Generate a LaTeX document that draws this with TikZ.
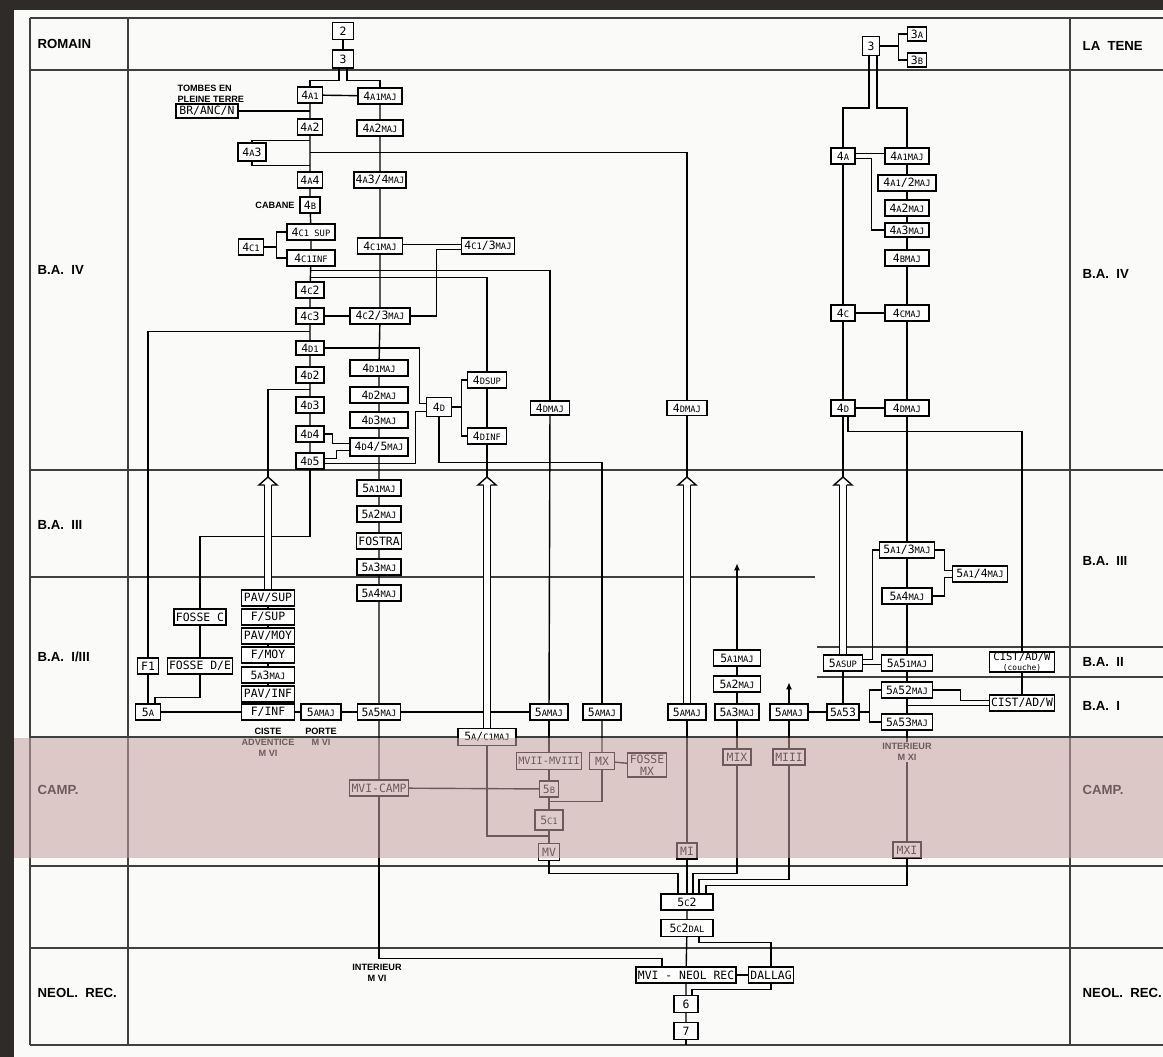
\documentclass[tikz,border=0pt]{standalone}
\usepackage{fontspec}
\setsansfont{Liberation Sans}
\setmonofont{DejaVu Sans Mono}
\usetikzlibrary{arrows.meta,calc}
\definecolor{scan}{RGB}{46,43,41}
\definecolor{paper}{RGB}{250,250,248}
\definecolor{campband}{RGB}{196,161,161}
\newcommand{\lc}[1]{{\fontsize{5}{5}\selectfont #1}}

\begin{document}
\begin{tikzpicture}[
    x=0.02cm, y=-0.02cm, line width=0.8pt,
    box/.style={draw, fill=white, font=\ttfamily\fontsize{6.5}{7}\selectfont,
                inner xsep=1pt, inner ysep=0pt, minimum height=0.32cm, align=center},
    wd/.style={minimum width=#1*0.02cm},
    ht/.style={minimum height=#1*0.02cm},
    lab/.style={font=\sffamily\bfseries\fontsize{5.2}{6.2}\selectfont, align=center, inner sep=0.5pt},
    period/.style={font=\sffamily\bfseries\fontsize{7.5}{8}\selectfont, anchor=west, inner sep=0pt},
    tabline/.style={line width=0.7pt, black!75},
    hollow/.style={double=white, double distance=3.2pt, line width=0.8pt},
    tip/.style={-{Latex[length=4pt,width=3.5pt]}},
    hollowhead/.pic={\draw[fill=white] (-3.5,0) -- (-9,0) -- (0,-8) -- (9,0) -- (3.5,0);}
]

% --- sheet ---
\fill[scan] (0,0) rectangle (1163,1057);
\fill[paper] (14,10) rectangle (1163,1057);
\useasboundingbox (0,0) rectangle (1163,1057);

% --- table ---
\draw[tabline] (30,18) -- (1163,18);
\draw[tabline] (30,70) -- (1163,70);
\draw[tabline] (30,470) -- (1163,470);
\draw[tabline] (30,577) -- (815,577);
\draw[tabline] (817,647) -- (1163,647);
\draw[tabline] (817,677) -- (1163,677);
\draw[tabline] (30,737) -- (1163,737);
\draw[tabline] (30,866) -- (1163,866);
\draw[tabline] (30,948) -- (1163,948);
\draw[tabline] (30,1045) -- (1163,1045);
\draw[tabline] (30,18) -- (30,1045);
\draw[tabline] (128,18) -- (128,1045);
\draw[tabline] (1070,18) -- (1070,1045);

\node[period] (romain) at (37,44) {ROMAIN};
\node[period] (baiv) at (37,270) {B.A.~~IV};
\node[period] (baiii) at (37,525) {B.A.~~III};
\node[period] (baiiii) at (37,657) {B.A.~~I/III};
\node[period] (camp) at (37,790) {CAMP.};
\node[period] (neol) at (37,993) {NEOL.~~REC.};
\node[period] (latene) at (1082,46) {LA~~TENE};
\node[period] (baivr) at (1082,274) {B.A.~~IV};
\node[period] (baiiir) at (1082,561) {B.A.~~III};
\node[period] (baii) at (1082,662) {B.A.~~II};
\node[period] (bai) at (1082,706) {B.A.~~I};
\node[period] (campr) at (1082,790) {CAMP.};
\node[period] (neolr) at (1082,993) {NEOL.~~REC.};

% --- left tree: 4A to 4D ---
\node[box, wd=21, ht=17] (n2) at (343,31) {2};
\node[box, wd=21, ht=18] (n3) at (343,59) {3};
\node[box, wd=25] (n4a1) at (310,95) {4\lc{A1}};
\node[box, wd=44] (n4a1maj) at (380,96) {4\lc{A1MAJ}};
\node[box, wd=62, ht=14] (brancn) at (207,111) {BR/ANC/N};
\node[lab, anchor=north west, align=left] (tombes) at (176,84) {TOMBES EN\\PLEINE TERRE};
\node[box, wd=25] (n4a2) at (310,127) {4\lc{A}2};
\node[box, wd=46] (n4a2maj) at (380,128) {4\lc{A}2\lc{MAJ}};
\node[box, wd=28, ht=18] (n4a3) at (252,152) {4\lc{A}3};
\node[box, wd=25] (n4a4) at (310,180) {4\lc{A}4};
\node[box, wd=49] (n4a34maj) at (380,180) {4\lc{A}3/4\lc{MAJ}};
\node[box, wd=20] (n4b) at (310,205) {4\lc{B}};
\node[lab] (cabane) at (275,205) {CABANE};
\node[box, wd=48] (n4c1sup) at (311,232) {4\lc{C1 SUP}};
\node[box, wd=48] (n4c1inf) at (311,258) {4\lc{C1INF}};
\node[box, wd=25] (n4c1) at (251,247) {4\lc{C1}};
\node[box, wd=45] (n4c1maj) at (380,246) {4\lc{C1MAJ}};
\node[box, wd=53] (n4c13maj) at (488,246) {4\lc{C1}/3\lc{MAJ}};
\node[box, wd=28] (n4c2) at (310,290) {4\lc{C}2};
\node[box, wd=28] (n4c3) at (310,316) {4\lc{C}3};
\node[box, wd=60] (n4c23maj) at (380,316) {4\lc{C}2/3\lc{MAJ}};
\node[box, wd=28, ht=14] (n4d1) at (310,348) {4\lc{D1}};
\node[box, wd=28] (n4d2) at (310,375) {4\lc{D}2};
\node[box, wd=28] (n4d3) at (310,405) {4\lc{D}3};
\node[box, wd=28] (n4d4) at (310,434) {4\lc{D}4};
\node[box, wd=28] (n4d5) at (310,461) {4\lc{D}5};
\node[box, wd=58] (n4d1maj) at (379,368) {4\lc{D1MAJ}};
\node[box, wd=58] (n4d2maj) at (379,395) {4\lc{D}2\lc{MAJ}};
\node[box, wd=58] (n4d3maj) at (379,420) {4\lc{D}3\lc{MAJ}};
\node[box, wd=58, ht=18] (n4d45maj) at (379,447) {4\lc{D}4/5\lc{MAJ}};
\node[box, wd=25, ht=19] (n4d) at (439,407) {4\lc{D}};
\node[box, wd=39] (n4dsup) at (487,380) {4\lc{DSUP}};
\node[box, wd=39] (n4dinf) at (487,436) {4\lc{DINF}};
\node[box, wd=39, ht=14] (n4dmaja) at (550,408) {4\lc{DMAJ}};
\node[box, wd=40, ht=15] (n4dmajb) at (687,408) {4\lc{DMAJ}};

% --- 5A ---
\node[box, wd=44] (n5a1maj) at (379,488) {5\lc{A1MAJ}};
\node[box, wd=44] (n5a2maj) at (379,514) {5\lc{A}2\lc{MAJ}};
\node[box, wd=44] (fostra) at (379,541) {FOSTRA};
\node[box, wd=44] (n5a3maj) at (379,567) {5\lc{A}3\lc{MAJ}};
\node[box, wd=44] (n5a4maj) at (379,593) {5\lc{A}4\lc{MAJ}};
\node[box, wd=43] (n5a5maj) at (379,712) {5\lc{A}5\lc{MAJ}};
\node[box, wd=53] (pavsup) at (268,598) {PAV/SUP};
\node[box, wd=53] (fsup) at (268,617) {F/SUP};
\node[box, wd=53] (pavmoy) at (268,636) {PAV/MOY};
\node[box, wd=53] (fmoy) at (268,655) {F/MOY};
\node[box, wd=53] (ciste5a3) at (268,675) {5\lc{A}3\lc{MAJ}};
\node[box, wd=53] (pavinf) at (268,694) {PAV/INF};
\node[box, wd=53] (finf) at (268,712) {F/INF};
\node[lab] (ciste) at (268,742) {CISTE\\ADVENTICE\\M VI};
\node[box, wd=40] (porte) at (321,712) {5\lc{AMAJ}};
\node[lab] (portelab) at (321,737) {PORTE\\M VI};
\node[box, wd=25] (n5a) at (148,712) {5\lc{A}};
\node[box, wd=21] (f1) at (148,666) {F1};
\node[box, wd=64] (fossede) at (200,666) {FOSSE D/E};
\node[box, wd=52] (fossec) at (200,617) {FOSSE C};

% --- middle: 5A to MV ---
\node[box, wd=58, ht=17] (n5ac1maj) at (487,737) {5\lc{A}/\lc{C1MAJ}};
\node[box, wd=38] (n5amaja) at (549,712) {5\lc{AMAJ}};
\node[box, wd=38] (n5amajb) at (602,712) {5\lc{AMAJ}};
\node[box, wd=38] (n5amajc) at (687,712) {5\lc{AMAJ}};
\node[box, wd=47] (n5a1majr) at (737,658) {5\lc{A1MAJ}};
\node[box, wd=47] (n5a2majr) at (737,684) {5\lc{A}2\lc{MAJ}};
\node[box, wd=44] (n5a3majr) at (737,712) {5\lc{A}3\lc{MAJ}};
\node[box, wd=38] (n5amajd) at (789,712) {5\lc{AMAJ}};
\node[box, wd=64, ht=17, font=\ttfamily\fontsize{5.8}{6}\selectfont] (mvii) at (549,761) {MVII-MVIII};
\node[box, wd=25, ht=17] (mx) at (602,761) {MX};
\node[box, wd=39, ht=24] (fossemx) at (647,765) {FOSSE\\MX};
\node[box, wd=28] (mix) at (737,757) {MIX};
\node[box, wd=32] (miii) at (789,757) {MIII};
\node[box, wd=57] (mvicamp) at (379,788) {MVI-CAMP};
\node[box, wd=19] (n5b) at (549,789) {5\lc{B}};
\node[box, wd=28, ht=20] (n5c1) at (549,820) {5\lc{C1}};
\node[box, wd=21, ht=17] (mv) at (549,852) {MV};
\node[box, wd=20] (mi) at (687,851) {MI};
\node[box, wd=28] (mxi) at (907,850) {MXI};

% --- bottom: 5C2 to 7 ---
\node[box, wd=52] (n5c2) at (687,902) {5\lc{C}2};
\node[box, wd=52, ht=17] (n5c2dal) at (687,928) {5\lc{C}2\lc{DAL}};
\node[box, wd=97] (mvineol) at (686,975) {MVI - NEOL REC};
\node[box, wd=45] (dallag) at (771,975) {DALLAG};
\node[box, wd=24, ht=17] (n6) at (686,1004) {6};
\node[box, wd=24, ht=17] (n7) at (686,1031) {7};
\node[lab] (intvi) at (377,973) {INTERIEUR\\M VI};

% --- right tree ---
\node[box, wd=17, ht=19] (r3) at (871,46) {3};
\node[box, wd=19, ht=14] (r3a) at (917,34) {3\lc{A}};
\node[box, wd=19, ht=14] (r3b) at (917,60) {3\lc{B}};
\node[box, wd=24] (r4a) at (843,156) {4\lc{A}};
\node[box, wd=44] (r4a1maj) at (907,156) {4\lc{A1MAJ}};
\node[box, wd=58] (r4a12maj) at (907,183) {4\lc{A1}/2\lc{MAJ}};
\node[box, wd=44] (r4a2maj) at (907,208) {4\lc{A}2\lc{MAJ}};
\node[box, wd=44, ht=14] (r4a3maj) at (907,230) {4\lc{A}3\lc{MAJ}};
\node[box, wd=44] (r4bmaj) at (907,258) {4\lc{BMAJ}};
\node[box, wd=24] (r4c) at (843,313) {4\lc{C}};
\node[box, wd=44] (r4cmaj) at (907,313) {4\lc{CMAJ}};
\node[box, wd=24] (r4d) at (843,408) {4\lc{D}};
\node[box, wd=44] (r4dmaj) at (907,408) {4\lc{DMAJ}};
\node[box, wd=55] (r5a13maj) at (907,550) {5\lc{A1}/3\lc{MAJ}};
\node[box, wd=55] (r5a14maj) at (980,574) {5\lc{A1}/4\lc{MAJ}};
\node[box, wd=50] (r5a4maj) at (907,596) {5\lc{A}4\lc{MAJ}};
\node[box, wd=39] (r5asup) at (843,663) {5\lc{ASUP}};
\node[box, wd=51] (r5a51maj) at (907,663) {5\lc{A}5\lc{1MAJ}};
\node[box, wd=65, ht=20, font=\ttfamily\fontsize{6}{5.5}\selectfont] (cistcouche) at (1022,662)
    {CIST/AD/W\\{\fontsize{4.5}{4.5}\selectfont (couche)}};
\node[box, wd=51] (r5a52maj) at (907,690) {5\lc{A}52\lc{MAJ}};
\node[box, wd=65] (cist) at (1022,703) {CIST/AD/W};
\node[box, wd=32] (r5a53) at (843,712) {5\lc{A}53};
\node[box, wd=51] (r5a53maj) at (907,722) {5\lc{A}53\lc{MAJ}};
\node[lab] (intxi) at (907,752) {INTERIEUR\\M XI};

% hollow arrow points
\coordinate (tipa) at (268,477); \coordinate (basea) at (268,485);
\coordinate (tipb) at (487,477); \coordinate (baseb) at (487,485);
\coordinate (tipc) at (687,477); \coordinate (basec) at (687,485);
\coordinate (tipd) at (843,477); \coordinate (based) at (843,485);

% --- connectors: left tree ---
\draw (n2) -- (n3);
\draw (n3.south) ++(-4,0) -- ++(0,12) -| (n4a1.north);
\draw (n3.south) ++(4,0) -- ++(0,12) -| (n4a1maj.north);
\draw (n4a1) -- (n4a1maj);
\draw (n4a1) -- (n4a2) -- (n4a4) -- (n4b) -- (n4c1sup) -- (n4c1inf) -- (n4c2) -- (n4c3)
      -- (n4d1) -- (n4d2) -- (n4d3) -- (n4d4) -- (n4d5);
\draw (brancn) -- (brancn -| n4a1);
\draw (n4a2.south) ++(0,5) -| (n4a3.north);
\draw (n4a4.north) ++(0,-6) -| (n4a3.south);
\draw (n4a2.south) ++(0,17) -| (n4dmajb.north);
\draw (n4a1maj) -- (n4a2maj) -- (n4a34maj) -- (n4c1maj) -- (n4c23maj) -- (n4d1maj) -- (n4d2maj)
      -- (n4d3maj) -- (n4d45maj) -- (n5a1maj) -- (n5a2maj) -- (fostra) -- (n5a3maj)
      -- (n5a4maj) -- (n5a5maj) -- (mvicamp);
\draw (mvicamp.south) -- ++(0,162) -| ($(mvineol.north)+(-24,0)$);
\draw (n4c1.east) -- ++(12,0) |- (n4c1sup);
\draw (n4c1.east) ++(12,0) |- (n4c1inf);
\draw ([yshift=1pt]n4c1maj.east) -- ([yshift=1pt]n4c13maj.west);
\draw (n4c3) -- (n4c23maj);
\draw (n4c23maj.east) -- ++(26,0) |- ([yshift=-2pt]n4c13maj.west);
\draw (n4c1inf.south) ++(0,4) -| (n4dmaja.north);
\draw (n4c1inf.south) ++(0,11) -| (n4dsup.north);
\draw (n4d1.north) ++(0,-9) -| (f1.north);
\draw (n4d2.south) ++(0,6) -| (tipa);
\draw (n4d1.east) -- ++(95,0) |- ([yshift=2pt]n4d.west);
\draw ([yshift=-1.5pt]n4d5.east) -- ++(91,0) |- ([yshift=-2.5pt]n4d.west);
\draw (n4d4.east) -- ++(8,0) |- ([yshift=2pt]n4d45maj.west);
\draw ([yshift=1.5pt]n4d5.east) -- ++(12,0) |- ([yshift=-2pt]n4d45maj.west);
\draw (n4d.east) -- ++(9,0) |- (n4dsup);
\draw (n4d.east) ++(9,0) |- (n4dinf);
\draw (n4dsup) -- (n4dinf) -- (tipb);
\draw (n4d.south) -- ++(0,45) -| (n5amajb.north);
\draw (n4dmaja) -- (n5amaja);
\draw (n4dmajb) -- (tipc);

% --- connectors: 5A ---
\draw (n4d5.south) -- ++(0,67) -| (fossec.north);
\draw (fossec) -- (fossede);
\draw (fossede.south) -- ++(0,23) -| ($(n5a.north)+(7,0)$);
\draw (f1) -- (n5a);
\draw (pavsup) -- (fsup) -- (pavmoy) -- (fmoy) -- (ciste5a3) -- (pavinf) -- (finf);
\draw (n5a) -- (finf) -- (porte) -- (n5a5maj) -- (n5amaja);

% --- connectors: middle and bottom ---
\draw (n5amaja) -- (mvii) -- (n5b) -- (n5c1) -- (mv);
\draw (mvicamp) -- (n5b);
\draw (n5amajb) -- (mx) -- (fossemx);
\draw (mx.south) |- ($(n5c1.north)+(0,-8)$);
\draw (n5ac1maj.south) |- ($(mv.north)+(0,-7)$);
\draw (mv.south) -- ++(0,12) -| ($(n5c2.north)+(-9,0)$);
\draw (n5amajc) -- (mi) -- (n5c2);
\draw[tip] (n5a1majr.north) -- ++(0,-86);
\draw (n5a1majr) -- (n5a2majr) -- (n5a3majr) -- (mix);
\draw (mix.south) -- ++(0,108) -| ($(n5c2.north)+(6,0)$);
\draw[tip] (n5amajd.north) -- ++(0,-21);
\draw (n5amajd) -- (miii);
\draw (miii.south) -- ++(0,114) -| ($(n5c2.north)+(12,0)$);
\draw (n5amajd) -- (r5a53);
\draw (mxi.south) -- ++(0,27) -| ($(n5c2.north)+(19,0)$);
\draw (n5c2) -- (n5c2dal) -- (mvineol) -- (n6) -- (n7);
\draw (n7.south) -- ++(0,5);
\draw ($(n5c2dal.south)+(12,0)$) -- ++(0,5) -| (dallag.north);
\draw (mvineol) -- (dallag);
\draw (dallag.south) -- ++(0,6) -| ($(n6.north)+(6,0)$);

% --- connectors: right tree ---
\draw (r3.east) -- ++(18,0) |- (r3a);
\draw (r3.east) ++(18,0) |- (r3b);
\draw (r3.south) ++(-2,0) -- ++(0,52) -| (r4a.north);
\draw (r3.south) ++(6,0) -- ++(0,52) -| (r4a1maj.north);
\draw ([yshift=1.5pt]r4a.east) -- ([yshift=1.5pt]r4a1maj.west);
\draw ([yshift=-1.5pt]r4a.east) -- ++(16,0) |- (r4a3maj);
\draw (r4a1maj) -- (r4a12maj) -- (r4a2maj) -- (r4a3maj) -- (r4bmaj) -- (r4cmaj) -- (r4dmaj)
      -- (r5a13maj) -- (r5a4maj) -- (r5a51maj) -- (r5a52maj) -- (r5a53maj) -- (intxi);
\draw (intxi) -- (mxi);
\draw (r4a) -- (r4c) -- (r4d) -- (tipd);
\draw (r4c) -- (r4cmaj);
\draw (r4d) -- (r4dmaj);
\draw (r4d.south) ++(5,0) -- ++(0,15) -| (cistcouche.north);
\draw (r5a13maj.east) -- ++(9,0) |- ([yshift=2pt]r5a14maj.west);
\draw (r5a4maj.east) -- ++(11.5,0) |- ([yshift=-2pt]r5a14maj.west);
\draw ([yshift=2pt]r5asup.east) -- ++(9,0) |- (r5a13maj);
\draw ([yshift=-1pt]r5asup.east) -- ([yshift=-1pt]r5a51maj.west);
\draw (r5asup) -- (r5a53);
\draw (r5a53.east) -- ++(10,0) |- (r5a52maj);
\draw (r5a53.east) ++(10,0) |- (r5a53maj);
\draw (r5a52maj.east) -- ++(27,0) |- ([yshift=1.5pt]cist.west);
\draw ([yshift=-1.5pt]cist.west) -- ([yshift=-1.5pt]cist.west -| r5a52maj.south);
\draw (cistcouche) -- (cist);

% --- hollow arrows ---
\draw[hollow] (pavsup.north) -- (basea);
\pic at (basea) {hollowhead};
\draw[hollow] (n5ac1maj.north) -- (baseb);
\pic at (baseb) {hollowhead};
\draw[hollow] (n5amajc.north) -- (basec);
\pic at (basec) {hollowhead};
\draw[hollow] (r5asup.north) -- (based);
\pic at (based) {hollowhead};

% --- camp band ---
\fill[campband, opacity=0.56] (14,738) rectangle (1163,858);

\end{tikzpicture}
\end{document}
